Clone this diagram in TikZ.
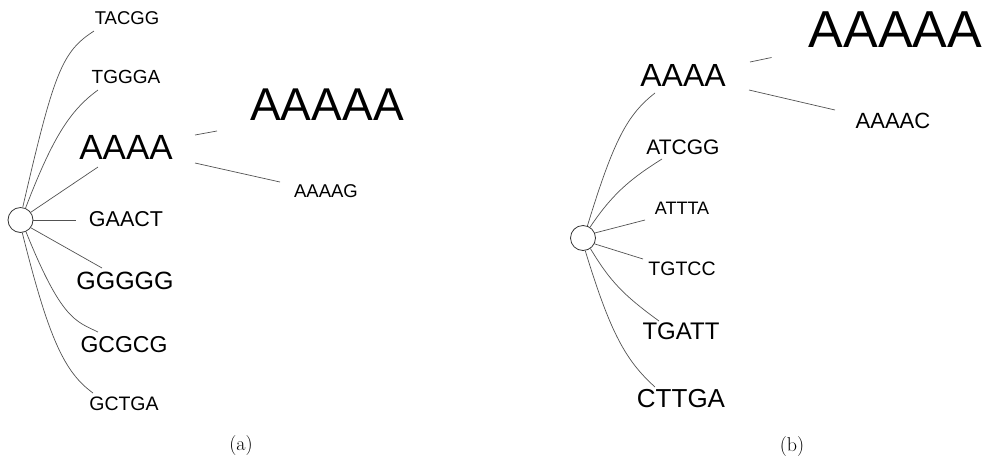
\documentclass[tikz,border=0pt]{standalone}
\usepackage{fontspec}
\newfontfamily\helv{Liberation Sans}
\begin{document}
\begin{tikzpicture}[x=1pt,y=1pt,
  seq/.style={inner sep=0pt, font=\helv\fontsize{#1}{#1}\selectfont},
  hub/.style={circle, draw=black!80, line width=0.8pt, fill=white,
              minimum size=25pt, inner sep=0pt},
  link/.style={draw=black!68, line width=0.7pt},
  sublabel/.style={inner sep=0pt, font=\fontsize{20}{20}\selectfont}]
\useasboundingbox (0,0) rectangle (982,-459);

% ---------------- (a) ----------------
\node[seq=18.5] (tacgg) at (127,-18)  {TACGG};
\node[seq=19]   (tggga) at (126,-77)  {TGGGA};
\node[seq=35]   (aaaa)  at (126,-147) {AAAA};
\node[seq=46]   (aaaaa) at (327,-105) {AAAAA};
\node[seq=18.5] (aaaag) at (326,-191) {AAAAG};
\node[seq=21.5] (gaact) at (126,-219) {GAACT};
\node[seq=25]   (ggggg) at (125,-281) {GGGGG};
\node[seq=23]   (gcgcg) at (124,-345) {GCGCG};
\node[seq=19.5] (gctga) at (124,-404) {GCTGA};
\node[hub] (ra) at (20.5,-220) {};

\draw[link] (ra.80) to[out=77,in=213,out distance=140pt,in distance=38pt]
  ([shift={(-33,-13)}]tacgg.center);
\draw[link] (ra.67) to[out=69,in=216,out distance=75pt,in distance=35pt]
  ([shift={(-28,-13)}]tggga.center);
\draw[link] (ra.37) -- ([shift={(-28,-20)}]aaaa.center);
\draw[link] (ra.0) -- ([shift={(-50,-1)}]gaact.center);
\draw[link] (ra.-37) -- ([shift={(-23,13)}]ggggg.center);
\draw[link] (ra.-65) to[out=-68,in=154,out distance=95pt,in distance=25pt]
  ([shift={(-26,13)}]gcgcg.center);
\draw[link] (ra.-82) to[out=-76,in=144,out distance=110pt,in distance=35pt]
  ([shift={(-31,11)}]gctga.center);
\draw[link] ([shift={(69,12)}]aaaa.center) -- ([shift={(-110,-26)}]aaaaa.center);
\draw[link] ([shift={(69,-16)}]aaaa.center) -- ([shift={(-46,9)}]aaaag.center);

\node[sublabel] (capa) at (241,-445) {(a)};

% ---------------- (b) ----------------
\node[seq=52]   (baaaaa) at (895.5,-29.5) {AAAAA};
\node[seq=32]   (baaaa)  at (683,-75)  {AAAA};
\node[seq=22]   (baaaac) at (893,-121) {AAAAC};
\node[seq=21]   (batcgg) at (683,-147) {ATCGG};
\node[seq=18]   (battta) at (682,-208) {ATTTA};
\node[seq=19.5] (btgtcc) at (682,-269) {TGTCC};
\node[seq=24]   (btgatt) at (681,-331) {TGATT};
\node[seq=26]   (bcttga) at (681,-399) {CTTGA};
\node[hub] (rb) at (583,-238) {};

\draw[link] (rb.70) to[out=73,in=218,out distance=90pt,in distance=35pt]
  ([shift={(-28,-18)}]baaaa.center);
\draw[link] (rb.57) to[out=56,in=212,out distance=38pt,in distance=40pt]
  ([shift={(-21,-12)}]batcgg.center);
\draw[link] (rb.23) -- ([shift={(-37,-12)}]battta.center);
\draw[link] (rb.-27) -- ([shift={(-39,10)}]btgtcc.center);
\draw[link] (rb.-55) to[out=-59,in=144,out distance=38pt,in distance=44pt]
  ([shift={(-22,10)}]btgatt.center);
\draw[link] (rb.-80) to[out=-73,in=138,out distance=85pt,in distance=40pt]
  ([shift={(-26,12)}]bcttga.center);
\draw[link] ([shift={(67,13)}]baaaa.center) -- ([shift={(-124,-28)}]baaaaa.center);
\draw[link] ([shift={(66,-15)}]baaaa.center) -- ([shift={(-58,11)}]baaaac.center);

\node[sublabel] (capb) at (792,-446) {(b)};
\end{tikzpicture}
\end{document}
